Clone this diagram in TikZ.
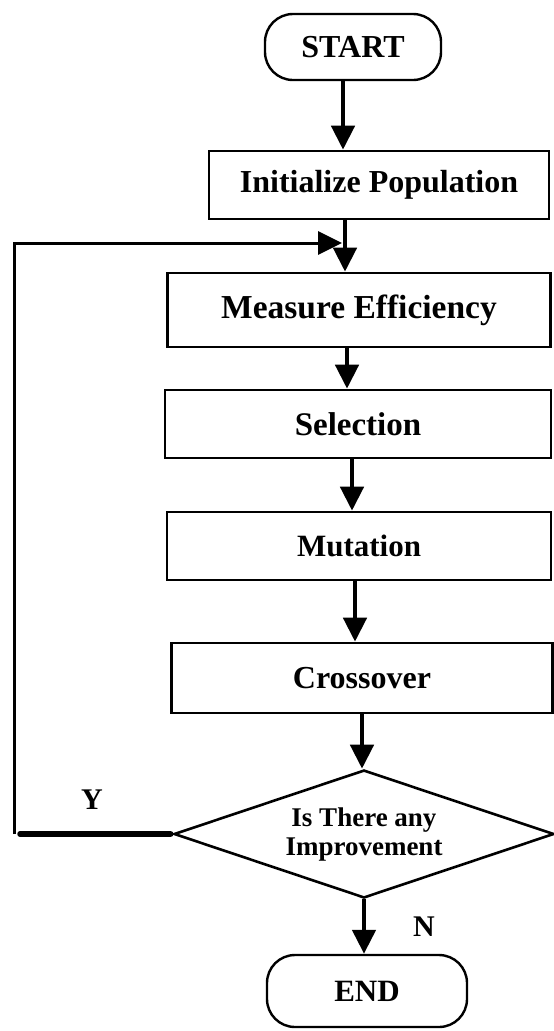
\documentclass[tikz,border=0pt]{standalone}
\usepackage{fontspec}
\setmainfont{Liberation Serif}
\usetikzlibrary{arrows.meta,shapes.geometric,calc}

\newcommand{\boxfont}[1]{\bfseries\fontsize{#1}{#1}\selectfont}

\tikzset{
  stepbox/.style={draw, line width=2.6pt, inner sep=0pt, minimum height=68pt,
    font=\boxfont{31}},
  term/.style={draw, line width=2.4pt, rounded corners=28pt, inner sep=0pt,
    font=\boxfont{31}},
  decision/.style={diamond, draw, line width=2.6pt, aspect=3, inner sep=0pt,
    minimum width=380pt, minimum height=128pt, align=center,
    font=\bfseries\fontsize{27}{29}\selectfont},
  flow/.style={line width=4.6pt, -{Triangle[width=23pt,length=24pt]}},
  back/.style={line width=3pt, -{Triangle[width=23pt,length=24pt]}},
  tag/.style={font=\boxfont{30}}
}

\begin{document}
\begin{tikzpicture}[x=1pt,y=-1pt]
\useasboundingbox (0,0) rectangle (554,1031);

% process chain
\node[term, minimum width=176pt, minimum height=66pt, font=\boxfont{32}] (start) at (353,47) {START};
\node[stepbox, minimum width=340pt, font=\boxfont{32}] (init) at (379,185) {Initialize Population};
\node[stepbox, minimum width=383pt, minimum height=74pt, font=\boxfont{33.5}] (measure) at (359,310) {Measure Efficiency};
\node[stepbox, minimum width=386pt, font=\boxfont{33}] (sel) at (358,424) {Selection};
\node[stepbox, minimum width=384pt, font=\boxfont{31}] (mut) at (359,546) {Mutation};
\node[stepbox, minimum width=381pt, minimum height=70pt, font=\boxfont{32}] (cross) at (362,678) {Crossover};
\node[decision] (dec) at (364,834) {Is There any\\Improvement};
\node[term, minimum width=200pt, minimum height=72pt] (end) at (367,991) {END};

% downward connectors
\draw[flow] ([xshift=-10pt]start.south) -- ([xshift=-10pt]start.south |- init.north);
\draw[flow] ([xshift=-34pt]init.south) -- ([xshift=-34pt]init.south |- measure.north);
\draw[flow] ([xshift=-12pt]measure.south) -- ([xshift=-12pt]measure.south |- sel.north);
\draw[flow] ([xshift=-6pt]sel.south) -- ([xshift=-6pt]sel.south |- mut.north);
\draw[flow] ([xshift=-4pt]mut.south) -- ([xshift=-4pt]mut.south |- cross.north);
\draw[flow] (cross.south) -- (cross.south |- dec.north);
\draw[flow] (dec.south) -- (dec.south |- end.north);

% feedback loop on "Y": heavy stub from the decision, thin return line
\coordinate (lx) at (14,243);
\coordinate (ltip) at (342,243);
\draw[line width=5.5pt, line cap=round] ([xshift=-2pt]dec.west) -- ([xshift=6pt]dec.west -| lx);
\draw[back] (dec.west -| lx) |- (ltip);

% branch labels
\node[tag] (ylab) at (92,800) {Y};
\node[tag] (nlab) at (424,927) {N};
\end{tikzpicture}
\end{document}
